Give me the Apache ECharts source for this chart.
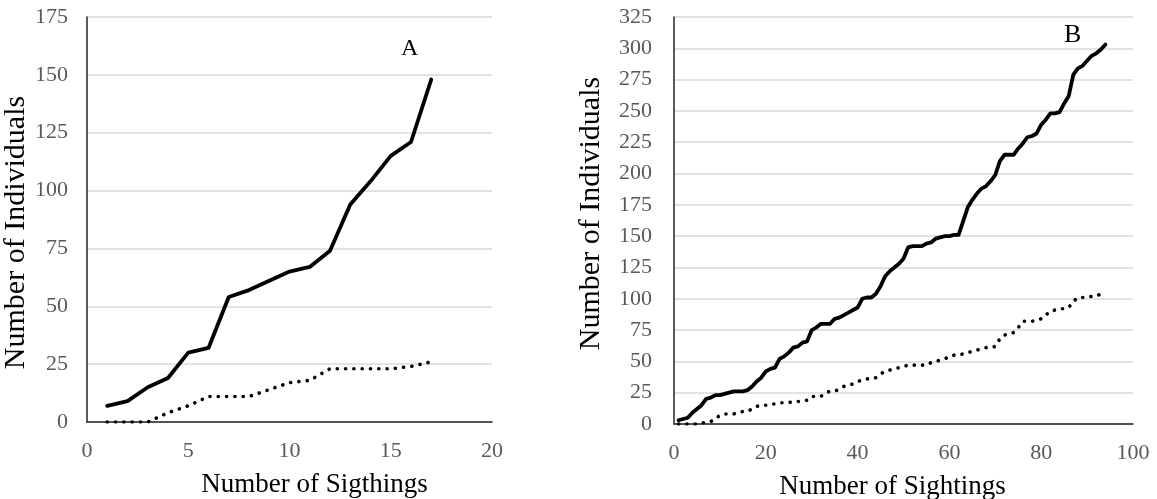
<!DOCTYPE html>
<html>
<head>
<meta charset="utf-8">
<script src="https://cdn.jsdelivr.net/npm/echarts@6/dist/echarts.min.js"></script>
<style>
html,body{margin:0;padding:0;background:#fff;}
#c{width:1157px;height:499px;}
</style>
</head>
<body>
<div id="c"></div>
<script>
// Panel A
const sightingsA = [1,2,3,4,5,6,7,8,9,10,11,12,13,14,15,16,17];
const totalA = [7,9,15,19,30,32,54,57,61,65,67,74,94,104,115,121,148];
const resightA = [0,0,0,4,7,11,11,11,14,17,18,23,23,23,23,24,26];
// Panel B (sightings 1..94)
const totalB = [3,4,5,9,12,15,20,21,23,23,24,25,26,26,26,27,30,34,37,42,
  44,45,52,54,57,61,62,65,66,75,77,80,80,80,84,85,87,89,91,93,
  100,101,101,104,110,118,122,125,128,132,141,142,142,142,144,145,148,149,150,150,
  151,151,162,173,179,184,188,190,194,199,210,215,215,215,220,224,229,230,232,239,
  243,248,248,249,256,262,279,284,286,290,294,296,299,303];
const resightB = [0,0,0,0,0,1,1,2,4,7,8,8,8,9,10,10,12,14,15,15,
  16,16,17,17,17,18,18,18,19,22,22,22,25,26,26,28,30,31,32,34,
  35,36,36,37,40,42,43,44,45,46,47,47,47,47,47,49,50,51,52,54,
  55,55,56,57,58,59,60,61,61,62,68,71,72,73,77,82,82,82,83,84,
  87,90,91,92,92,93,98,101,101,101,102,102,104,105];
const yTicksA = {min:0, max:175, interval:25};
const yTicksB = {min:0, max:325, interval:25};
const xTicksA = {min:0, max:20, interval:5};
const xTicksB = {min:0, max:100, interval:20};

const pairsA = arr => arr.map((v,i)=>[sightingsA[i], v]);
const pairsB = arr => arr.map((v,i)=>[i+1, v]);

const FONT = '"Liberation Serif","Times New Roman",serif';
const tickLabel = {color:'#595959', fontFamily:FONT, fontSize:22};
const gridLine = {show:true, lineStyle:{color:'#d9d9d9', width:1.5}};

function xAxis(idx, t, name, pad){
  return {type:'value', gridIndex:idx, min:t.min, max:t.max, interval:t.interval,
    axisLine:{show:true, onZero:false, lineStyle:{color:'#262626', width:1.5}},
    axisTick:{show:false}, splitLine:{show:false},
    axisLabel:Object.assign({margin:18}, tickLabel),
    name:name, nameLocation:'middle', nameGap:49,
    nameTextStyle:{color:'#000', fontFamily:FONT, fontSize:27, padding:pad}};
}
function yAxis(idx, t, name, gap, margin, pad){
  return {type:'value', gridIndex:idx, min:t.min, max:t.max, interval:t.interval,
    axisLine:{show:true, lineStyle:{color:'#262626', width:1.5}},
    axisTick:{show:false}, splitLine:gridLine,
    axisLabel:Object.assign({margin:margin}, tickLabel),
    name:name, nameLocation:'middle', nameGap:gap, nameRotate:90,
    nameTextStyle:{color:'#000', fontFamily:FONT, fontSize:30, padding:pad}};
}
const solid = {color:'#000', width:3.8, cap:'round', join:'round'};
const dotted = {color:'#000', width:3.6, type:[0.1,8.2], cap:'round'};

const chart = echarts.init(document.getElementById('c'), null, {renderer:'canvas'});
chart.setOption({
  animation:false,
  backgroundColor:'#fff',
  grid:[
    {left:87, right:665, top:17, bottom:77, containLabel:false, outerBoundsMode:'none'},
    {left:674, right:24, top:17, bottom:75, containLabel:false, outerBoundsMode:'none'}
  ],
  xAxis:[xAxis(0, xTicksA, 'Number of Sigthings', [0,0,0,50]),
         xAxis(1, xTicksB, 'Number of Sightings', [0,22,0,0])],
  yAxis:[yAxis(0, yTicksA, 'Number of Individuals', 45, 19, [0,26,0,0]),
         yAxis(1, yTicksB, 'Number of Individuals', 68, 22, [0,0,0,14])],
  graphic:[
    {type:'text', left:401, top:37, style:{text:'A', font:'24px '+FONT, fill:'#000'}},
    {type:'text', left:1064, top:22, style:{text:'B', font:'26px '+FONT, fill:'#000'}}
  ],
  series:[
    {type:'line', xAxisIndex:0, yAxisIndex:0, data:pairsA(totalA), showSymbol:false, lineStyle:solid, z:3},
    {type:'line', xAxisIndex:0, yAxisIndex:0, data:pairsA(resightA), showSymbol:false, lineStyle:dotted, z:3},
    {type:'line', xAxisIndex:1, yAxisIndex:1, data:pairsB(totalB), showSymbol:false, lineStyle:solid, z:3},
    {type:'line', xAxisIndex:1, yAxisIndex:1, data:pairsB(resightB), showSymbol:false, lineStyle:dotted, z:3}
  ]
});
</script>
</body>
</html>
